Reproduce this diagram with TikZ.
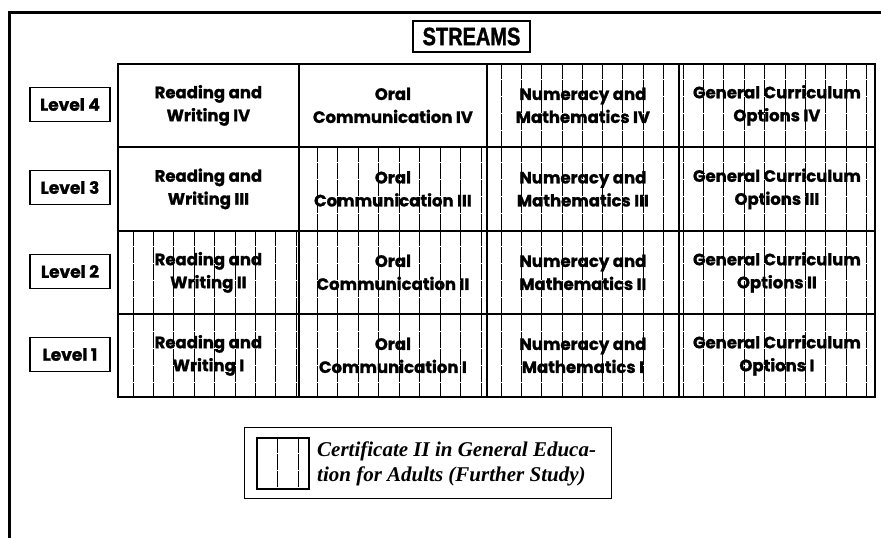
\documentclass[tikz,border=0pt]{standalone}
\usepackage{fontspec}
\newfontfamily\geo{Poppins}[BoldFeatures={FakeBold=1.2}]
\newfontfamily\lsans{Liberation Sans}[BoldFeatures={FakeBold=1.5}]
\newfontfamily\lserif{Liberation Serif}
\usetikzlibrary{calc}
\tikzset{
  frame/.style={line width=3pt},
  cellbox/.style={draw, line width=1.8pt, anchor=north west, inner sep=0pt},
  celltext/.style={align=center, font=\geo\bfseries\fontsize{16.5}{23}\selectfont, inner sep=0pt},
  hatchline/.style={line width=0.8pt, dash pattern=on 16pt off 1pt},
  lvlbox/.style={draw, line width=1.8pt, minimum width=80pt, minimum height=34pt, inner sep=0pt, font=\geo\bfseries\fontsize{17}{18}\selectfont},
}
% yt, yb, start, step, last index
\newcommand\hatchcol[5]{%
  \foreach \k in {0,...,#5} {\draw[hatchline] ({#3+#4*\k},#1) -- ({#3+#4*\k},#2);}
}
\newcommand\colA[2]{\hatchcol{#1}{#2}{133}{20.4}{8}}
\newcommand\colB[2]{\hatchcol{#1}{#2}{317}{20.5}{8}}
\newcommand\colC[2]{\hatchcol{#1}{#2}{501}{20.3}{8}}
\newcommand\colD[2]{\hatchcol{#1}{#2}{683}{20.4}{9}}
\begin{document}
\begin{tikzpicture}[x=1pt,y=-1pt]
\useasboundingbox (0,0) rectangle (881,538);
\fill[white] (0,0) rectangle (881,538);
% outer frame (top and left)
\draw[frame, line join=miter] (881,12.5) -- (9.5,12.5) -- (9.5,538);

% title
\node[draw, line width=2.2pt, minimum width=117pt, minimum height=31pt, inner sep=0pt] (streams) at (471.5,36.5)
  {\lsans\bfseries\fontsize{25}{25}\selectfont\scalebox{0.8}[1]{STREAMS}};

% hatching (drawn first)
\colC{63}{146}\colD{63}{146}
\colB{146}{230}\colC{146}{230}\colD{146}{230}
\colA{230}{396}\colB{230}{396}\colC{230}{396}\colD{230}{396}

% cells
\foreach \r/\yt/\h/\num in {4/63/83/IV, 3/146/84/III, 2/230/83/II, 1/313/83/I} {
  \node[cellbox, minimum width=181pt, minimum height=\h pt] (c\r a) at (117,\yt) {};
  \node[cellbox, minimum width=188pt, minimum height=\h pt] (c\r b) at (298,\yt) {};
  \node[cellbox, minimum width=192pt, minimum height=\h pt] (c\r c) at (486,\yt) {};
  \node[cellbox, minimum width=196pt, minimum height=\h pt] (c\r d) at (678,\yt) {};
  \node[celltext] (t\r a) at (c\r a.center) {Reading and\\Writing \num};
  \node[celltext] (t\r b) at (c\r b.center) {Oral\\Communication \num};
  \node[celltext] (t\r c) at (c\r c.center) {Numeracy and\\Mathematics \num};
  \node[celltext] (t\r d) at (c\r d.center) {General Curriculum\\Options \num};
  \node[lvlbox] (lvl\r) at (70,\yt+41.5) {Level \r};
}

% legend
\node[draw, line width=1.2pt, minimum width=367pt, minimum height=71pt, anchor=north west, inner sep=0pt] (legend) at (244,427) {};
\draw[hatchline] (277,437) -- (277,488);
\draw[hatchline] (298,437) -- (298,488);
\node[draw, line width=1.8pt, minimum width=52pt, minimum height=51pt, anchor=north west, inner sep=0pt] (swatch) at (256,437) {};
\node[anchor=west, align=left, inner sep=0pt, font=\lserif\bfseries\itshape\fontsize{21}{25}\selectfont] (legtext) at (317,464)
  {Certificate II in General Educa-\\tion for Adults (Further Study)};
\end{tikzpicture}
\end{document}
